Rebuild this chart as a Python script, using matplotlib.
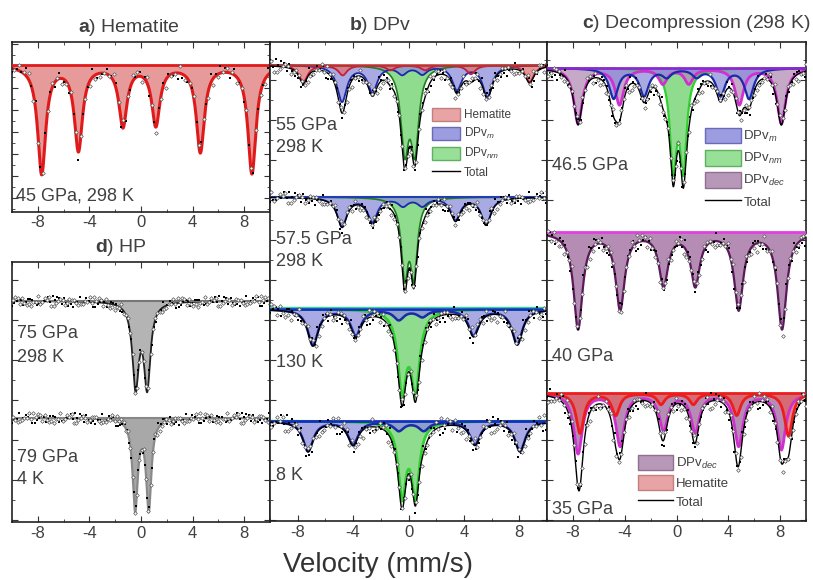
import matplotlib
matplotlib.use('Agg')
import matplotlib.pyplot as plt
import numpy as np
from matplotlib.patches import Patch
from matplotlib.lines import Line2D
from matplotlib.ticker import MultipleLocator

plt.rcParams['font.family'] = ['Liberation Sans', 'DejaVu Sans']
plt.rcParams['mathtext.fontset'] = 'custom'
plt.rcParams['mathtext.rm'] = 'Liberation Sans'
plt.rcParams['mathtext.it'] = 'Liberation Sans:italic'
plt.rcParams['mathtext.bf'] = 'Liberation Sans:bold'
plt.rcParams['axes.unicode_minus'] = False

W, H = 813, 580
TXT = '#404040'

# --- fitted sub-spectra: line positions (mm/s), depths (rel. absorption), HWHM ---
# a) hematite 45 GPa
hem45_pos = [-7.7, -4.85, -1.4, 1.15, 4.6, 8.6]
hem45_dep = [108, 84, 60, 59, 86, 108]

# b) DPv, 55 GPa 298 K
hem55_pos = [-7.6, -4.75, -1.3, 1.2, 4.5, 8.75]
hem55_dep = [17, 10, 5, 5, 9, 17]
m55_pos = [-4.8, -2.6, -0.45, 1.0, 3.5, 5.7]
m55_dep = [36, 26, 8, 8, 24, 31]
nm55_pos = [-0.27, 0.46]
nm55_dep = [80, 80]
# b) 57.5 GPa 298 K
m575_pos = [-4.8, -2.6, -0.4, 1.0, 3.4, 5.6]
m575_dep = [29, 24, 8, 8, 22, 27]
nm575_pos = [-0.27, 0.39]
nm575_dep = [74, 74]
# b) 130 K
m130_pos = [-6.9, -3.8, -0.7, 1.0, 4.7, 7.85]
m130_dep = [36, 26, 10, 7, 26, 35]
nm130_pos = [-0.46, 0.5]
nm130_dep = [78, 78]
# b) 8 K
m8_pos = [-7.25, -4.0, -0.7, 1.1, 4.8, 8.05]
m8_dep = [30, 23, 9, 9, 23, 30]
nm8_pos = [-0.46, 0.5]
nm8_dep = [72, 72]

# c) decompression 46.5 GPa
dec465_pos = [-7.6, -4.4, -1.05, 0.95, 4.85, 8.1]
dec465_dep = [55, 36, 15, 15, 36, 55]
m465_pos = [-4.85, -2.5, -0.75, 1.55, 3.4, 5.6]
m465_dep = [30, 27, 8, 8, 27, 30]
nm465_pos = [-0.25, 0.53]
nm465_dep = [95, 95]
# c) 40 GPa
dec40_pos = [-7.6, -4.35, -1.0, 1.45, 4.8, 8.15]
dec40_dep = [96, 76, 52, 52, 76, 96]
# c) 35 GPa
dec35_pos = [-7.6, -4.35, -1.0, 1.45, 4.8, 8.1]
dec35_dep = [60, 52, 36, 38, 52, 56]
hem35_pos = [-7.45, -4.7, -1.2, 1.3, 4.65, 8.65]
hem35_dep = [40, 22, 11, 11, 22, 43]

# d) HP doublets
hp75_pos = [-0.42, 0.48]
hp75_dep = [83, 83]
hp79_pos = [-0.45, 0.6]
hp79_dep = [90, 90]

# residual scatter of the measured points around the fit
resid = [3.1, -4.2, 1.0, 6.3, -2.5, -6.8, 2.2, 0.4, -3.7, 5.1, -1.2, 7.4, -5.6,
         1.8, -0.6, 4.4, -7.1, 2.9, -2.0, 0.9, 5.8, -4.9, -1.5, 3.6, -6.0, 1.3,
         6.7, -3.0, 0.2, -5.2, 4.0, -0.9, 2.6, -7.6, 3.3, -1.8, 5.4]

xticks = [-8, -4, 0, 4, 8]
v = np.linspace(-10, 10, 1200)


def lor(x, pos, dep, w):
    out = np.zeros_like(x)
    for p, d in zip(pos, dep):
        out += d / (1 + ((x - p) / w) ** 2)
    return out


def add_panel(l, t, r, b):
    ax = fig.add_axes([l / W, 1 - b / H, (r - l) / W, (b - t) / H])
    ax.set_xlim(-10, 10)
    ax.set_ylim(b, t)
    ax.set_xticks(xticks)
    ax.xaxis.set_minor_locator(MultipleLocator(2))
    ax.yaxis.set_major_locator(MultipleLocator(40))
    ax.yaxis.set_minor_locator(MultipleLocator(20))
    ax.set_yticklabels([])
    ax.tick_params(which='both', direction='in', top=True, right=True,
                   labelsize=12, labelcolor=TXT, color='#333333', pad=3)
    ax.tick_params(which='major', length=4)
    ax.tick_params(which='minor', length=2)
    for s in ax.spines.values():
        s.set_linewidth(1.2)
        s.set_color('#222222')
    return ax


def comp(ax, base, pos, dep, w, fc, ec, lw=1.5, alpha=0.75, z=2):
    y = base + lor(v, pos, dep, w)
    ax.fill_between(v, base, y, color=fc, alpha=alpha, lw=0, zorder=z)
    ax.plot(v, y, color=ec, lw=lw, zorder=z + 0.5)


def points(ax, base, comps, n, scale, seed):
    x = np.linspace(-10, 10, n)
    y = np.full(n, float(base))
    for pos, dep, w in comps:
        y += lor(x, pos, dep, w)
    r = np.array(resid)[(np.arange(n) * 7 + seed) % len(resid)] * scale
    y = y + r
    ax.scatter(x[::2], y[::2], s=2.5, marker='s', color='black', lw=0, zorder=6)
    ax.scatter(x[1::2], y[1::2], s=3.5, marker='D', facecolor='white',
               edgecolor='#555555', lw=0.5, zorder=6)


def total(ax, base, comps, color='black', lw=1.0):
    y = np.full_like(v, float(base))
    for pos, dep, w in comps:
        y += lor(v, pos, dep, w)
    ax.plot(v, y, color=color, lw=lw, zorder=5)


def label(ax, y, s, x=0.02):
    ax.text(x, y, s, transform=ax.get_yaxis_transform(), fontsize=13,
            color=TXT, va='center', ha='left', zorder=8)


fig = plt.figure(figsize=(W / 100, H / 100), dpi=100)

HEM_F, HEM_E = '#e58f8f', '#e01a1a'
M_F, M_E = '#8c8cdc', '#1a2aa8'
NM_F, NM_E = '#8fdc8f', '#22aa22'
DEC_F, DEC_E = '#b48cb4', '#d030d0'

# ---------------- a) Hematite ----------------
ax = add_panel(12, 42, 270, 212)
ax.yaxis.set_major_locator(MultipleLocator(22))
ax.yaxis.set_minor_locator(MultipleLocator(11))
ax.tick_params(axis='x', pad=2)
base = 65
points(ax, base, [(hem45_pos, hem45_dep, 0.38)], 110, 1.1, 0)
comp(ax, base, hem45_pos, hem45_dep, 0.38, HEM_F, HEM_E, lw=2.2, alpha=0.9)
ax.plot([-10, 10], [base, base], color=HEM_E, lw=2, zorder=3)
label(ax, 196, '45 GPa, 298 K', x=0.015)

# ---------------- d) HP ----------------
ax = add_panel(12, 262, 270, 522)
base = 301
comp(ax, base, hp75_pos, hp75_dep, 0.3, '#b4b4b4', '#222222', lw=1.3, alpha=1)
ax.plot([-10, 10], [base, base], color='#777777', lw=1.5, zorder=3)
points(ax, base, [(hp75_pos, hp75_dep, 0.3)], 230, 0.7, 3)
label(ax, 333, '75 GPa')
label(ax, 357, '298 K')
base = 418
comp(ax, base, hp79_pos, hp79_dep, 0.24, '#a8a8a8', '#8a8a8a', lw=1.6, alpha=1)
ax.plot([-10, 10], [base, base], color='#888888', lw=1.5, zorder=3)
points(ax, base, [(hp79_pos, hp79_dep, 0.24)], 230, 0.7, 11)
label(ax, 458, '79 GPa')
label(ax, 480, '4 K')

# ---------------- b) DPv ----------------
ax = add_panel(270, 42, 547, 521)
# 55 GPa
base = 65
c55 = [(hem55_pos, hem55_dep, 0.38), (m55_pos, m55_dep, 0.42), (nm55_pos, nm55_dep, 0.34)]
points(ax, base, c55, 200, 0.9, 5)
comp(ax, base, nm55_pos, nm55_dep, 0.34, NM_F, '#1f7f1f', lw=1.2, alpha=1)
comp(ax, base, m55_pos, m55_dep, 0.42, M_F, M_E, lw=1.3)
comp(ax, base, hem55_pos, hem55_dep, 0.38, '#e07070', '#c02040', lw=1.3)
total(ax, base, c55)
ax.plot([-10, 10], [base, base], color='#c03030', lw=1.8, zorder=3)
label(ax, 125, '55 GPa')
label(ax, 147, '298 K')
# 57.5 GPa
base = 197
c575 = [(m575_pos, m575_dep, 0.42), (nm575_pos, nm575_dep, 0.29)]
points(ax, base, c575, 200, 0.8, 9)
comp(ax, base, nm575_pos, nm575_dep, 0.29, NM_F, '#1f7f1f', lw=1.2, alpha=1)
comp(ax, base, m575_pos, m575_dep, 0.42, M_F, M_E, lw=1.3)
total(ax, base, c575)
ax.plot([-10, 10], [base, base], color='#2040b0', lw=1.5, zorder=3)
label(ax, 240, '57.5 GPa')
label(ax, 262, '298 K')
# 130 K
base = 309
c130 = [(m130_pos, m130_dep, 0.45), (nm130_pos, nm130_dep, 0.37)]
points(ax, base, c130, 200, 1.0, 17)
comp(ax, base, nm130_pos, nm130_dep, 0.37, NM_F, '#30d030', lw=2.0, alpha=1)
comp(ax, base, m130_pos, m130_dep, 0.45, M_F, M_E, lw=1.8)
total(ax, base, c130)
ax.plot([-10, 10], [base, base], color='#1030c0', lw=2, zorder=3)
ax.plot([-10, 10], [base - 1.5, base - 1.5], color='#30d0a0', lw=1, zorder=3)
label(ax, 363, '130 K')
# 8 K
base = 421
c8 = [(m8_pos, m8_dep, 0.45), (nm8_pos, nm8_dep, 0.34)]
points(ax, base, c8, 200, 1.1, 23)
comp(ax, base, nm8_pos, nm8_dep, 0.34, NM_F, '#30d030', lw=2.0, alpha=1)
comp(ax, base, m8_pos, m8_dep, 0.45, M_F, M_E, lw=1.8)
total(ax, base, c8)
ax.plot([-10, 10], [base, base], color='#1030c0', lw=2, zorder=3)
label(ax, 476, '8 K')

handles = [Patch(fc='#e8a4a4', ec='#c08080'), Patch(fc='#9c9ce0', ec='#6a6ab8'),
           Patch(fc='#98e098', ec='#60b060'), Line2D([], [], color='black', lw=1)]
ax.legend(handles, ['Hematite', r'DPv$_{m}$', r'DPv$_{nm}$', 'Total'],
          loc='upper left', bbox_to_anchor=(0.585, 0.862), frameon=False,
          fontsize=8.5, handlelength=2.4, handleheight=1.3, labelspacing=0.4,
          handletextpad=0.3, borderpad=0, borderaxespad=0, labelcolor=TXT)

# ---------------- c) Decompression ----------------
ax = add_panel(547, 42, 806, 521)
# 46.5 GPa
base = 68
c465 = [(dec465_pos, dec465_dep, 0.4), (m465_pos, m465_dep, 0.42), (nm465_pos, nm465_dep, 0.31)]
points(ax, base, c465, 200, 1.0, 29)
comp(ax, base, nm465_pos, nm465_dep, 0.31, NM_F, '#30d030', lw=1.6, alpha=1)
comp(ax, base, dec465_pos, dec465_dep, 0.4, DEC_F, DEC_E, lw=2.0)
comp(ax, base, m465_pos, m465_dep, 0.42, M_F, M_E, lw=1.6)
total(ax, base, c465)
ax.plot([-10, 10], [base, base], color='#8a2ad0', lw=2, zorder=3)
label(ax, 165, '46.5 GPa')
# 40 GPa
base = 232
c40 = [(dec40_pos, dec40_dep, 0.42)]
points(ax, base, c40, 200, 1.1, 31)
comp(ax, base, dec40_pos, dec40_dep, 0.42, DEC_F, '#5a1a5a', lw=1.6, alpha=1)
ax.plot([-10, 10], [base, base], color='#e040e0', lw=2, zorder=3)
label(ax, 357, '40 GPa')
# 35 GPa
base = 393
c35 = [(dec35_pos, dec35_dep, 0.4), (hem35_pos, hem35_dep, 0.36)]
points(ax, base, c35, 200, 1.1, 2)
comp(ax, base, dec35_pos, dec35_dep, 0.4, DEC_F, DEC_E, lw=2.0, alpha=1)
comp(ax, base, hem35_pos, hem35_dep, 0.36, '#e06060', '#ee1c1c', lw=2.0, alpha=0.75)
total(ax, base, c35)
ax.plot([-10, 10], [base, base], color='#ee1c1c', lw=2, zorder=3)
label(ax, 510, '35 GPa')

h1 = [Patch(fc='#9c9ce0', ec='#6a6ab8'), Patch(fc='#98e098', ec='#60b060'),
      Patch(fc='#b898b8', ec='#907090'), Line2D([], [], color='black', lw=1)]
leg = ax.legend(h1, [r'DPv$_{m}$', r'DPv$_{nm}$', r'DPv$_{dec}$', 'Total'],
                loc='upper left', bbox_to_anchor=(0.61, 0.82), frameon=False,
                fontsize=9.5, handlelength=2.7, handleheight=1.4, labelspacing=0.45,
                handletextpad=0.2, borderpad=0, borderaxespad=0, labelcolor=TXT)
ax.add_artist(leg)
h2 = [Patch(fc='#b898b8', ec='#907090'), Patch(fc='#e8a4a4', ec='#c08080'),
      Line2D([], [], color='black', lw=1)]
ax.legend(h2, [r'DPv$_{dec}$', 'Hematite', 'Total'],
          loc='upper left', bbox_to_anchor=(0.35, 0.138), frameon=False,
          fontsize=9.5, handlelength=2.7, handleheight=1.4, labelspacing=0.3,
          handletextpad=0.2, borderpad=0, borderaxespad=0, labelcolor=TXT)

# ---------------- titles and common label ----------------
fig.text(129 / W, 1 - 32 / H, r'$\mathbf{a}$) Hematite', ha='center', va='baseline',
         fontsize=14, color=TXT)
fig.text(380 / W, 1 - 30 / H, r'$\mathbf{b}$) DPv', ha='center', va='baseline',
         fontsize=14, color=TXT)
fig.text(810 / W, 1 - 28 / H, r'$\mathbf{c}$) Decompression (298 K)', ha='right',
         va='baseline', fontsize=14, color=TXT)
fig.text(121 / W, 1 - 252 / H, r'$\mathbf{d}$) HP', ha='center', va='baseline',
         fontsize=14, color=TXT)
fig.text(378 / W, 1 - 565 / H, 'Velocity (mm/s)', ha='center', va='center',
         fontsize=20, color='#333333')

fig.savefig('out.png', dpi=100)
